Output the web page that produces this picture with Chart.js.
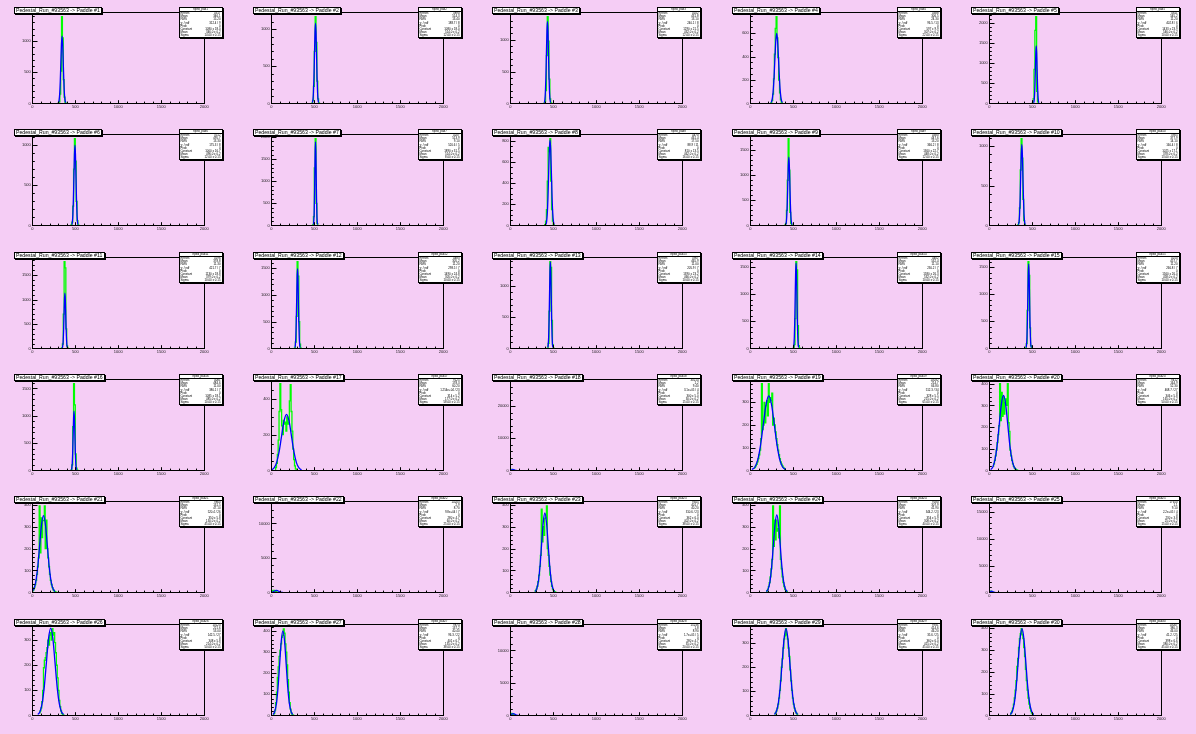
<!DOCTYPE html>
<html><head><meta charset="utf-8">
<script src="https://cdn.jsdelivr.net/npm/chart.js@4.4.1/dist/chart.umd.min.js"></script>
<style>
html,body{margin:0;padding:0;background:#f5cdf5;width:1196px;height:734px;overflow:hidden;font-family:"Liberation Sans",Arial,sans-serif;}
.panel{position:absolute;width:239px;height:122px;}
.panel canvas{position:absolute;left:0;top:0;}
.title{position:absolute;left:13.5px;top:7px;height:5px;line-height:5.2px;font-size:5.2px;background:#fff;border:1px solid #000;box-shadow:1px 1px 0 #000;padding:0 1.5px;white-space:nowrap;color:#000;}
.stats{position:absolute;left:178.5px;top:7px;width:42px;height:28.6px;background:#fff;border:1px solid #000;box-shadow:1px 1px 0 #000;font-size:2.9px;line-height:3.2px;color:#000;overflow:hidden;}
.stats .hd{text-align:center;border-bottom:0.6px solid #000;height:3px;line-height:3px;}
.stats .r{display:flex;justify-content:space-between;padding:0 1px;white-space:nowrap;}
</style></head><body>
<div id="root"></div>
<script>
// ---------- data ----------
const runLabel = "Pedestal_Run_#93563";
const paddles = [1,2,3,4,5,6,7,8,9,10,11,12,13,14,15,16,17,18,19,20,21,22,23,24,25,26,27,28,29,30];
const xTicks = [0, 500, 1000, 1500, 2000];
const binWidth = 10;
const histStart = [290,460,380,230,490, 440,470,390,390,320, 330,260,420,490,410, 440,40,-10,40,40, 0,-10,280,180,-10, 80,20,-10,280,240];
const histCounts = [
  [0,3,25,150,520,1390,1050,380,100,15,0],
  [0,4,40,230,700,1167,820,300,60,8,0],
  [0,3,30,200,750,1362,980,380,70,8,0],
  [0,6,25,80,210,420,640,740,560,390,200,90,30,8,0],
  [0,15,120,850,1820,2160,300,40,0],
  [0,5,40,240,700,1079,800,300,60,6,0],
  [0,10,200,1300,1962,500,40,0],
  [0,8,40,150,420,740,700,822,420,150,40,8,0],
  [0,5,40,300,900,1727,1100,260,40,5,0],
  [0,5,35,220,700,1095,850,330,60,6,0],
  [0,8,90,700,1774,1650,400,50,4,0],
  [0,10,120,600,1620,1350,500,80,6,0],
  [0,6,80,600,1392,1300,450,60,5,0],
  [0,5,70,550,1600,1450,420,50,4,0],
  [0,6,90,700,1600,1350,380,50,4,0],
  [0,8,100,800,1585,1200,300,40,3,0],
  [0,15,40,90,170,330,486,340,250,200,280,260,270,220,300,260,270,390,480,330,220,120,60,25,8,2,0],
  [27050,260,300,220,90,20,0],
  [9,13,20,27,38,52,69,89,140,382,180,200,300,210,285,307,240,382,300,321,307,340,200,230,200,170,140,113,89,69,52,38,27,20,13,9,0],
  [19,30,46,67,94,128,165,206,400,230,360,250,340,260,314,330,300,400,220,180,94,67,46,30,19,11,6,3,1,0],
  [7,12,22,36,55,82,117,157,395,180,340,250,328,328,395,200,330,200,157,117,82,55,36,22,12,7,3,1,0,0],
  [12570,120,250,300,280,200,120,50,10,0],
  [3,8,15,28,49,79,119,169,380,230,300,260,337,340,395,200,169,119,79,49,28,15,8,3,1,0],
  [4,7,14,26,45,71,107,151,395,210,330,240,330,280,291,249,395,151,107,71,45,26,14,7,4,0],
  [16190,150,220,180,80,20,0],
  [10,18,30,55,100,190,220,230,250,270,300,280,320,330,300,346,320,330,290,250,200,150,100,60,35,18,8,3,1,0],
  [3,10,25,60,110,180,230,280,310,340,370,380,411,390,340,300,240,170,110,60,30,12,4,1,0],
  [13330,200,300,250,150,60,10,0],
  [5,10,18,30,47,72,104,144,200,235,280,317,330,360,335,317,280,245,189,144,104,72,47,30,18,10,5,0],
  [6,11,20,33,52,80,116,160,225,262,312,353,375,398,370,353,312,270,211,160,116,80,52,33,20,11,6,0]
];
const fitStart = [304,478,396,241,516, 460,490,414,412,339, 349,275,436,502,428, 455,3,-15,20,15, -5,-15,288,188,-20, 64,21,-25,280,245];
const fitStep  = [7,6,6,11,5, 6,4,8,6,6.5, 5,5,5,5,5, 5,29,7.5,32.5,25, 22.5,12.5,19,20,7.5, 25,19,10,22.5,22.5];
const fitCurve = [
  [12,48,146,351,656,953,1080,953,656,351,146,48,12],
  [12,48,146,351,656,953,1080,953,656,351,146,48,12],
  [14,57,174,419,783,1138,1290,1138,783,419,174,57,14],
  [7,26,81,194,362,527,597,527,362,194,81,26,7],
  [16,63,193,466,870,1264,1433,1264,870,466,193,63,16],
  [11,44,135,325,607,882,1000,882,607,325,135,44,11],
  [21,83,255,614,1147,1667,1890,1667,1147,614,255,83,21],
  [9,36,109,263,492,714,810,714,492,263,109,36,9],
  [15,60,184,442,825,1200,1360,1200,825,442,184,60,15],
  [11,45,138,333,622,904,1025,904,622,333,138,45,11],
  [12,50,153,367,686,997,1130,997,686,367,153,50,12],
  [16,66,201,484,904,1314,1490,1314,904,484,201,66,16],
  [15,61,188,452,844,1226,1390,1226,844,452,188,61,15],
  [17,70,213,514,959,1394,1580,1394,959,514,213,70,17],
  [17,69,211,507,947,1376,1560,1376,947,507,211,69,17],
  [12,48,146,353,659,957,1085,957,659,353,146,48,12],
  [3,14,42,102,191,277,314,277,191,102,42,14,3],
  [3,13,41,98,182,265,300,265,182,98,41,13,3],
  [4,14,44,107,199,289,328,289,199,107,44,14,4],
  [4,15,47,112,210,305,346,305,210,112,47,15,4],
  [4,15,47,114,212,309,350,309,212,114,47,15,4],
  [3,12,38,91,170,247,280,247,170,91,38,12,3],
  [4,16,49,118,220,319,362,319,220,118,49,16,4],
  [4,16,48,115,215,312,354,312,215,115,48,16,4],
  [3,10,31,75,140,203,230,203,140,75,31,10,3],
  [4,15,47,113,211,307,348,307,211,113,47,15,4],
  [4,18,54,130,243,354,401,354,243,130,54,18,4],
  [3,12,38,91,170,247,280,247,170,91,38,12,3],
  [4,16,49,117,218,318,360,318,218,117,49,16,4],
  [4,18,54,129,242,351,398,351,242,129,54,18,4]
];
const yMax  = [1460,1225,1430,777,2267, 1133,2060,863,1813,1150, 1863,1700,1462,1680,1680, 1665,510,28400,401,420, 415,13200,415,415,17000, 363,432,14000,378,418];
const yStep = [500,500,500,200,500, 500,500,200,500,500, 500,500,500,500,500, 500,200,10000,100,100, 100,5000,100,100,5000, 100,100,5000,100,100];
// stats box values
const entries  = [4317,3890,4102,4388,4611,3512,4207,4470,4380,3905,4196,4483,3967,4402,4250,4081,9125,30214,10032,9412,9860,14203,9345,9180,17650,10120,9874,15236,9931,10047];
const histMean = [346.1,514.3,431.8,306.5,545.2,495.7,513.9,461.4,447.6,377.9,378.8,305.2,465.9,532.4,457.7,484.6,178.3,1.2,214.7,164.9,131.5,2.9,401.7,307.9,1.1,221.6,137.2,1.8,414.6,380.3];
const histRMS  = [15.2,13.4,13.1,24.3,11.2,13.3,9.1,17.5,13.2,14.1,11.3,11.2,11.0,11.1,11.2,11.0,60.2,9.4,66.8,52.3,47.1,8.7,40.2,41.9,9.1,53.0,40.4,8.9,46.2,46.0];
const chi2     = ["312.4 / 9","188.7 / 8","240.1 / 8","96.5 / 13","402.8 / 6","175.3 / 8","520.6 / 5","88.9 / 11","366.2 / 8","160.4 / 8","421.7 / 7","298.5 / 7","205.9 / 7","230.2 / 7","266.8 / 7","380.1 / 7","1.254e+04 / 23","3.1e+05 / 4","512.3 / 34","468.7 / 27","520.4 / 26","9.8e+04 / 7","310.6 / 23","344.2 / 23","2.2e+05 / 4","142.5 / 27","96.3 / 22","1.7e+05 / 5","35.6 / 25","41.2 / 25"];
const fitConst = [1080,1080,1290,597,1433,1000,1890,810,1360,1025,1130,1490,1390,1580,1560,1085,314,300,328,346,350,280,362,354,230,348,401,280,360,398];
const fitMean  = [346,514,432,307,546,496,514,462,448,378,379,305,466,532,458,485,177,30,215,165,130,60,402,308,25,214,135,35,415,380];
const fitSigma = [14,12,12,22,10,12,8,16,12,13,10,10,10,10,10,10,58,15,65,50,45,25,38,40,15,50,38,20,45,45];

// ---------- drawing ----------
const PW = 239.2, PH = 122.33;
const FRAME = {left: 32.3, right: 204.3, top: 12.4, bottom: 103.4};

const rootFrame = {
  id: 'rootFrame',
  afterDatasetsDraw(chart, args, opts) {
    const {ctx, chartArea: a, scales} = chart;
    const x = scales.x, y = scales.y;
    const L = Math.round(a.left), R = Math.round(a.right), T = Math.round(a.top), B = Math.round(a.bottom);
    ctx.save();
    ctx.strokeStyle = '#000';
    ctx.lineWidth = 1;
    ctx.strokeRect(L + 0.5, T + 0.5, R - L, B - T);
    ctx.beginPath();
    const ys = opts.yStep, nMinor = (ys === 200 ? 4 : 5), ym = ys / nMinor;
    for (let k = 0; k * ym <= y.max; k++) {
      const v = k * ym;
      const py = Math.round(y.getPixelForValue(v)) + 0.5;
      const len = (k % nMinor === 0) ? 5.5 : 2.8;
      ctx.moveTo(L, py); ctx.lineTo(L + len, py);
    }
    for (let k = 0; k * 100 <= x.max; k++) {
      const v = k * 100;
      const px = Math.round(x.getPixelForValue(v)) + 0.5;
      const len = (k % 5 === 0) ? 2.8 : 1.4;
      ctx.moveTo(px, B); ctx.lineTo(px, B - len);
    }
    ctx.stroke();
    ctx.restore();
  }
};

const root = document.getElementById('root');
paddles.forEach((p, i) => {
  const col = i % 5, row = Math.floor(i / 5);
  const panel = document.createElement('div');
  panel.className = 'panel';
  panel.style.left = Math.round(col * PW) + 'px';
  panel.style.top = Math.round(row * PH) + 'px';
  const cv = document.createElement('canvas');
  cv.width = 239; cv.height = 122;
  cv.style.width = '239px'; cv.style.height = '122px';
  panel.appendChild(cv);
  root.appendChild(panel);

  const green = histCounts[i].map((c, k) => ({x: histStart[i] + binWidth * (k + 0.5), y: c}));
  const blue = fitCurve[i].map((v, k) => ({x: fitStart[i] + fitStep[i] * k, y: v}));
  const yTickValues = [];
  for (let v = 0; v <= yMax[i]; v += yStep[i]) yTickValues.push(v);

  new Chart(cv, {
    type: 'line',
    data: {
      datasets: [
        {data: blue, borderColor: '#0000ff', borderWidth: 1.3, pointRadius: 0, cubicInterpolationMode: 'monotone', fill: false},
        {data: green, borderColor: '#00ff00', borderWidth: 1.3, pointRadius: 0, stepped: 'middle', fill: false}
      ]
    },
    options: {
      responsive: false,
      animation: false,
      devicePixelRatio: 1,
      layout: {padding: {left: 0, right: 239 - FRAME.right, top: FRAME.top, bottom: 0}},
      plugins: {legend: {display: false}, tooltip: {enabled: false}, rootFrame: {yStep: yStep[i]}},
      scales: {
        x: {
          type: 'linear', min: 0, max: 2000,
          afterBuildTicks: s => { s.ticks = xTicks.map(v => ({value: v})); },
          ticks: {font: {size: 4, family: 'Liberation Sans'}, color: '#222', padding: 1.2, maxRotation: 0, autoSkip: false, callback: v => String(v)},
          grid: {display: false, drawTicks: false},
          border: {display: false},
          afterFit: s => { s.height = 122 - FRAME.bottom; }
        },
        y: {
          type: 'linear', min: 0, max: yMax[i],
          afterBuildTicks: s => { s.ticks = yTickValues.map(v => ({value: v})); },
          ticks: {font: {size: 4, family: 'Liberation Sans'}, color: '#222', padding: 1.5, autoSkip: false, callback: v => String(v)},
          grid: {display: false, drawTicks: false},
          border: {display: false},
          afterFit: s => { s.width = FRAME.left; }
        }
      }
    },
    plugins: [rootFrame]
  });

  const title = document.createElement('div');
  title.className = 'title';
  title.textContent = runLabel + ' -> Paddle #' + p;
  panel.appendChild(title);

  const st = document.createElement('div');
  st.className = 'stats';
  const rows = [
    ['Entries', String(entries[i])],
    ['Mean', histMean[i].toFixed(1)],
    ['RMS', histRMS[i].toFixed(2)],
    ['\u03C7\u00B2 / ndf', chi2[i]],
    ['Prob', '0'],
    ['Constant', fitConst[i] + ' \u00B1 ' + (fitConst[i] / 60).toFixed(1)],
    ['Mean', fitMean[i].toFixed(1) + ' \u00B1 0.2'],
    ['Sigma', fitSigma[i].toFixed(2) + ' \u00B1 0.15']
  ];
  let html = '<div class="hd">hped_pad' + p + '</div>';
  rows.forEach(r => { html += '<div class="r"><span>' + r[0] + '</span><span>' + r[1] + '</span></div>'; });
  st.innerHTML = html;
  panel.appendChild(st);
});
</script>
</body></html>
